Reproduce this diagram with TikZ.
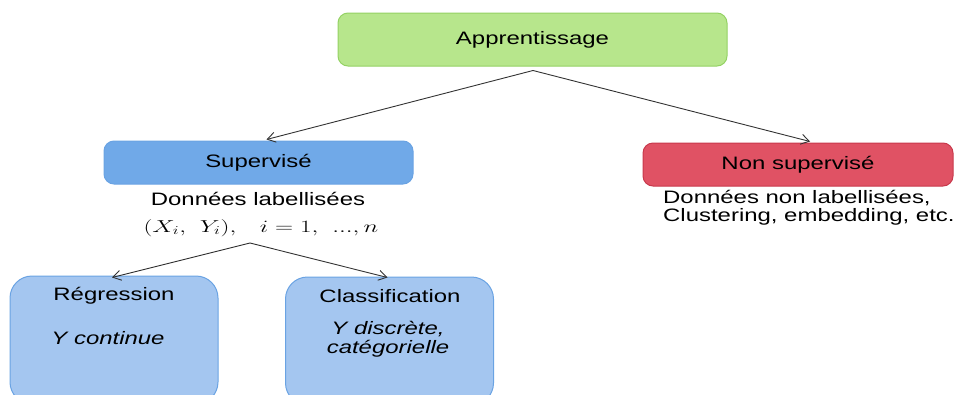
\documentclass[tikz,border=0pt]{standalone}
\usepackage{fontspec}
\usepackage{graphicx}
\setmainfont[FakeStretch=1.33]{Liberation Sans}
\usetikzlibrary{arrows.meta}

\definecolor{greenfill}{HTML}{B7E68C}
\definecolor{greenline}{HTML}{94D264}
\definecolor{bluefill}{HTML}{70A9E8}
\definecolor{blueline}{HTML}{6AA3E3}
\definecolor{redfill}{HTML}{E05264}
\definecolor{redline}{HTML}{C8394C}
\definecolor{lightblue}{HTML}{A4C6F0}
\definecolor{edgegray}{HTML}{333333}

\tikzset{
  box/.style={draw, line width=1pt, rounded corners=10pt, inner sep=0pt,
    font=\fontsize{18}{21}\selectfont},
  leafbox/.style={draw=blueline, fill=lightblue, line width=1pt, rounded corners=22pt,
    minimum width=208pt, minimum height=128pt, inner sep=0pt},
  txt/.style={inner sep=0pt, font=\fontsize{18}{21}\selectfont},
  itxt/.style={txt, font=\fontsize{18}{19}\selectfont\itshape},
  edge/.style={draw=edgegray, line width=0.9pt, -{Straight Barb[length=8pt,width=10pt]}}
}

\begin{document}
\begin{tikzpicture}[x=1pt,y=-1pt]
\useasboundingbox (0,0) rectangle (961,394);
\clip (0,0) rectangle (961,394);

% top level
\node[box, draw=greenline, fill=greenfill, minimum width=389pt, minimum height=53pt]
  (app) at (532.5,39.5) {Apprentissage};

% second level
\node[box, draw=blueline, fill=bluefill, minimum width=309pt, minimum height=43pt]
  (sup) at (258.5,162.5) {Supervisé};
\node[box, draw=redline, fill=redfill, minimum width=310pt, minimum height=43pt]
  (nonsup) at (798,164.5) {Non supervisé};

\node[txt] (suptxt) at (258,199) {Données labellisées};
\node[txt] (supmath) at (261,228) {\scalebox{1.45}[1]{$(X_i,\ Y_i),\ \ i=1,\ ...,n$}};
\node[txt, anchor=west, align=left, font=\fontsize{18}{18}\selectfont] (nonsuptxt) at (663,208)
  {Données non labellisées,\\Clustering, embedding, etc.};

% leaves
\node[leafbox] (reg) at (114,340) {};
\node[leafbox] (cls) at (389.5,341) {};
\node[txt] (regtitle) at (114,296) {Régression};
\node[itxt] (regtxt) at (108,338) {Y continue};
\node[txt] (clstitle) at (390,296) {Classification};
\node[itxt, align=center] (clstxt) at (388,339) {Y discrète,\\catégorielle};

% connectors
\coordinate (split1) at (533,70.5);
\coordinate (split2) at (250,243);
\draw[edge] (split1) -- ([xshift=8pt,yshift=1pt]sup.north);
\draw[edge] (split1) -- ([xshift=12pt,yshift=1pt]nonsup.north);
\draw[edge] (split2) -- ([xshift=-2pt,yshift=-2pt]reg.north);
\draw[edge] (split2) -- ([xshift=-2pt,yshift=-1pt]cls.north);
\end{tikzpicture}
\end{document}
